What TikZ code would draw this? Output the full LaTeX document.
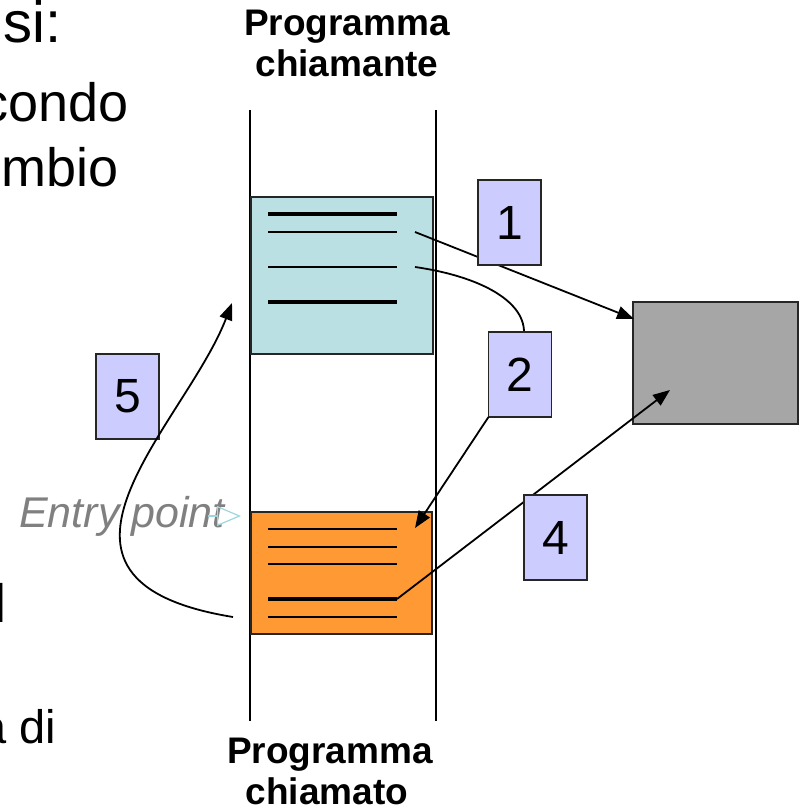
\documentclass[tikz,border=0pt]{standalone}
\usepackage{fontspec}
\setmainfont{Liberation Sans}
\usetikzlibrary{arrows.meta}

\definecolor{callbg}{HTML}{BBE0E3}
\definecolor{calledbg}{HTML}{FF9933}
\definecolor{stepbg}{HTML}{CCCCFF}
\definecolor{targetbg}{HTML}{A6A6A6}
\definecolor{entrygray}{HTML}{808080}
\definecolor{entryarrow}{HTML}{9ED6DE}

\tikzset{
  blockbox/.style={draw=black!85, line width=1.8pt, inner sep=0pt, outer sep=0pt},
  stepbox/.style={blockbox, fill=stepbg, minimum width=63pt, minimum height=85pt,
    font=\fontsize{48}{54}\selectfont},
  lifeline/.style={line width=2.6pt},
  codeline/.style={line width=2pt},
  codelinebold/.style={line width=3.4pt},
  flow/.style={line width=1.8pt, -{Triangle[length=17pt,width=13pt]}},
  flowplain/.style={line width=1.8pt},
  bodytext/.style={inner sep=0pt, font=\fontsize{54}{60}\selectfont},
  headtext/.style={inner sep=0pt, align=center, font=\bfseries\fontsize{37}{42}\selectfont}
}

\begin{document}
\begin{tikzpicture}[x=1pt, y=-1pt]
\useasboundingbox (0,0) rectangle (800,810);

% fragments of the slide text on the left
\node[bodytext, anchor=base east, font=\fontsize{58}{64}\selectfont] (tsi) at (62,43) {si:};
\node[bodytext, anchor=base east] (tcondo) at (129,122) {condo};
\node[bodytext, anchor=base east] (tmbio) at (119,187) {mbio};
\node[bodytext, anchor=base east] (tl) at (6.5,622) {l};
\node[bodytext, anchor=base east, font=\fontsize{47}{52}\selectfont] (tdi) at (56,743) {a di};

% column labels
\node[headtext, anchor=base] (callerA) at (347,36) {Programma};
\node[headtext, anchor=base] (callerB) at (347,77) {chiamante};
\node[headtext, anchor=base] (calleeA) at (330,763) {Programma};
\node[headtext, anchor=base] (calleeB) at (327,804) {chiamato};

% memory column boundaries
\coordinate (ltop) at (250,110);
\coordinate (lbot) at (250,721);
\coordinate (rtop) at (436,110);
\coordinate (rbot) at (436,721);
\draw[lifeline] (ltop) -- (lbot);
\draw[lifeline] (rtop) -- (rbot);

% caller and callee code blocks
\node[blockbox, fill=callbg, minimum width=182pt, minimum height=157pt] (caller) at (342,275.5) {};
\node[blockbox, fill=calledbg, minimum width=181pt, minimum height=122pt] (callee) at (341.5,573) {};
\node[blockbox, fill=targetbg, minimum width=165pt, minimum height=122pt] (target) at (715.5,363) {};

% instruction lines of the caller
\coordinate (a1l) at (268,214); \coordinate (a1r) at (397,214);
\coordinate (a2l) at (268,232); \coordinate (a2r) at (397,232);
\coordinate (a3l) at (268,267); \coordinate (a3r) at (397,267);
\coordinate (a4l) at (268,302); \coordinate (a4r) at (397,302);
\draw[codelinebold] (a1l) -- (a1r);
\draw[codeline] (a2l) -- (a2r);
\draw[codeline] (a3l) -- (a3r);
\draw[codelinebold] (a4l) -- (a4r);

% instruction lines of the callee
\coordinate (b1l) at (268,529); \coordinate (b1r) at (397,529);
\coordinate (b2l) at (268,547); \coordinate (b2r) at (397,547);
\coordinate (b3l) at (268,564); \coordinate (b3r) at (397,564);
\coordinate (b4l) at (268,599); \coordinate (b4r) at (397,599);
\coordinate (b5l) at (268,617); \coordinate (b5r) at (397,617);
\draw[codeline] (b1l) -- (b1r);
\draw[codeline] (b2l) -- (b2r);
\draw[codeline] (b3l) -- (b3r);
\draw[codelinebold] (b4l) -- (b4r);
\draw[codeline] (b5l) -- (b5r);

% control flow
\coordinate (f1s) at (415,232);
\coordinate (f1e) at (634,319);
\coordinate (f2s) at (415,267);
\coordinate (f2e) at (524,332);
\coordinate (f3e) at (415,528);
\coordinate (f4e) at (670,390);
\coordinate (f5s) at (233,617);
\coordinate (f5e) at (232,303);

\draw[flow] (f1s) -- (f1e);
\draw[flowplain] (f2s) .. controls (478,276) and (524,300) .. (f2e);
\draw[flow] (b4r) -- (f4e);

% step numbers
\node[stepbox] (s1) at (509.5,222.5) {1};
\node[stepbox] (s2) at (520,374.5) {2};
\node[stepbox] (s4) at (555.5,537.5) {4};
\node[stepbox] (s5) at (127.5,396.5) {5};

\draw[flow] (s2.south west) -- (f3e);

% entry point marker
\node[inner sep=0pt, anchor=base west, text=entrygray,
      font=\itshape\fontsize{43}{48}\selectfont] (entry) at (19,527) {Entry point};
\coordinate (ea) at (208,516);
\coordinate (eb) at (241,516);
\draw[entryarrow, line width=1.2pt, -{Triangle[open, length=24pt, width=20pt]}] (ea) -- (eb);

% return to the caller
\draw[flow] (f5s) .. controls (5,580) and (185,425) .. (f5e);
\end{tikzpicture}
\end{document}
